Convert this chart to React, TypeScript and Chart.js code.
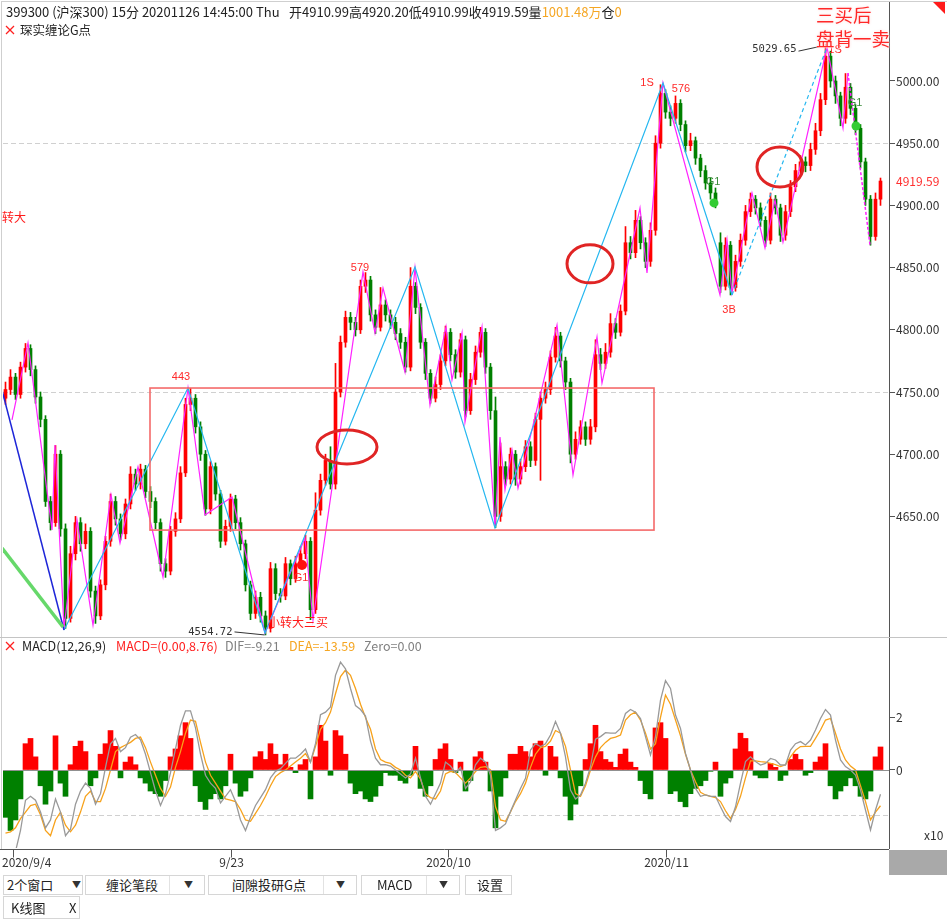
import React, { useEffect, useRef } from 'react';
import { Chart, registerables } from 'chart.js';
Chart.register(...registerables);

// ---------------- DATA ----------------
// each bar = one aggregated group of 15-minute bars, 2020/9/4 .. 2020/11/26 (399300 沪深300)
const opens = [4745,4752,4762,4748,4770,4785,4768,4746,4728,4662,
 4645,4700,4640,4568,4620,4645,4628,4638,4590,4570,
 4595,4630,4662,4648,4636,4660,4684,4676,4688,4670,
 4662,4645,4612,4606,4638,4648,4685,4740,4745,4722,
 4700,4656,4690,4668,4630,4642,4664,4645,4628,4595,
 4572,4585,4570,4560,4608,4588,4586,4612,4600,4612,
 4620,4630,4575,4655,4679,4695,4676,4750,4790,4810,
 4806,4800,4835,4840,4812,4802,4820,4812,4806,4797,
 4790,4770,4835,4818,4790,4765,4745,4756,4775,4798,
 4780,4766,4792,4735,4760,4782,4798,4770,4735,4650,
 4690,4680,4700,4680,4690,4706,4695,4728,4745,4752,
 4778,4795,4775,4758,4700,4712,4722,4712,4722,4780,
 4773,4782,4805,4798,4815,4870,4862,4888,4870,4855,
 4880,4950,4990,4975,4970,4982,4965,4948,4952,4938,
 4928,4918,4910,4870,4835,4868,4834,4855,4872,4895,
 4905,4898,4888,4872,4905,4898,4876,4895,4915,4928,
 4935,4932,4945,4960,4985,5020,5000,4988,4970,4995,
 4978,4962,4935,4905,4875,4905];
const closes = [4752,4762,4748,4770,4785,4768,4746,4728,4662,4645,
 4700,4640,4568,4620,4645,4628,4638,4590,4570,4595,
 4630,4662,4648,4636,4660,4684,4676,4688,4670,4662,
 4645,4612,4606,4638,4648,4685,4740,4745,4722,4700,
 4656,4690,4668,4630,4642,4664,4645,4628,4595,4572,
 4585,4570,4560,4608,4588,4586,4612,4600,4612,4620,
 4630,4575,4655,4679,4695,4676,4750,4790,4810,4806,
 4800,4835,4840,4812,4802,4820,4812,4806,4797,4790,
 4770,4835,4818,4790,4765,4745,4756,4775,4798,4780,
 4766,4792,4735,4760,4782,4798,4770,4735,4650,4690,
 4680,4700,4680,4690,4706,4695,4728,4745,4752,4778,
 4795,4775,4758,4700,4712,4722,4712,4722,4780,4773,
 4782,4805,4798,4815,4870,4862,4888,4870,4855,4880,
 4950,4990,4975,4970,4982,4965,4948,4952,4938,4928,
 4918,4910,4904,4835,4868,4834,4855,4872,4895,4905,
 4898,4888,4872,4905,4898,4876,4895,4915,4928,4935,
 4932,4945,4960,4985,5020,5000,4988,4970,4995,4978,
 4962,4935,4905,4875,4905,4919.59];
const highs = [4758,4768,4765,4774,4789,4788,4771,4750,4731,4666,
 4707,4703,4644,4626,4650,4649,4644,4641,4594,4599,
 4634,4668,4666,4652,4664,4690,4688,4692,4691,4674,
 4665,4648,4616,4642,4653,4690,4745,4753,4748,4726,
 4703,4694,4693,4671,4647,4668,4667,4649,4631,4598,
 4590,4589,4574,4613,4612,4592,4617,4615,4618,4626,
 4635,4633,4669,4684,4700,4706,4773,4795,4815,4814,
 4810,4840,4846,4843,4816,4834,4824,4816,4810,4801,
 4794,4850,4838,4821,4793,4768,4762,4780,4803,4801,
 4784,4797,4795,4765,4787,4802,4801,4773,4746,4709,
 4694,4705,4703,4696,4711,4710,4733,4750,4758,4783,
 4802,4798,4778,4761,4718,4727,4726,4728,4792,4785,
 4789,4813,4809,4820,4883,4875,4896,4891,4874,4886,
 4956,4997,4993,4980,4988,4985,4968,4958,4955,4941,
 4932,4922,4914,4878,4874,4871,4860,4877,4900,4910,
 4908,4902,4891,4910,4908,4901,4900,4920,4933,4940,
 4939,4950,4966,4990,5029.65,5024,5004,4991,5006,4998,
 4981,4965,4938,4908,4910,4922];
const lows = [4740,4748,4744,4745,4766,4763,4741,4722,4658,4639,
 4642,4634,4560,4565,4615,4622,4624,4585,4564,4567,
 4591,4626,4643,4631,4632,4656,4671,4672,4665,4657,
 4640,4606,4601,4603,4634,4645,4682,4735,4717,4695,
 4651,4652,4663,4625,4627,4638,4640,4623,4590,4567,
 4568,4565,4554.72,4557,4583,4581,4583,4595,4597,4608,
 4616,4567,4572,4651,4675,4672,4672,4746,4786,4800,
 4795,4797,4830,4807,4797,4799,4807,4801,4792,4785,
 4766,4767,4813,4785,4760,4741,4742,4752,4771,4775,
 4761,4762,4730,4732,4756,4778,4765,4728,4641,4646,
 4675,4676,4675,4676,4686,4690,4691,4679,4741,4748,
 4774,4770,4752,4693,4696,4708,4707,4708,4718,4768,
 4769,4778,4793,4795,4812,4857,4858,4865,4850,4851,
 4876,4946,4970,4964,4966,4960,4943,4944,4933,4923,
 4913,4905,4898,4830,4832,4828,4831,4851,4868,4891,
 4893,4883,4867,4869,4893,4871,4872,4891,4911,4924,
 4927,4928,4941,4956,4981,4995,4982,4964,4966,4973,
 4957,4930,4900,4868,4872,4900];

// MACD(12,26,9), displayed in units of x10
const macdHist = [-1.8,-2.3,-1.9,-1.1,1.0,1.2,0.5,-0.6,-1.3,-0.8,
 1.3,-0.5,-1.0,0.2,0.9,1.1,0.7,-0.6,-0.3,0.6,
 1.0,1.5,0.9,-0.3,0.3,0.5,0.2,-0.3,-0.5,-0.8,
 -0.9,-1.0,-0.4,0.5,0.8,1.3,1.8,1.2,-0.6,-1.2,
 -1.5,-1.1,-0.9,-1.1,-0.6,0.6,-0.5,-1.0,-0.8,-0.3,
 0.5,0.7,0.4,1.0,0.6,0.2,0.6,0.1,-0.1,0.2,
 0.4,-1.1,0.5,1.7,1.1,-0.2,1.5,1.3,0.6,-0.5,
 -0.9,-0.8,-1.1,-1.2,-1.0,-0.6,-0.1,-0.2,-0.2,-0.4,
 -0.5,-0.2,0.9,-0.7,-1.0,-0.6,0.4,0.8,1.0,0.4,
 -0.1,0.3,-0.8,-0.4,0.5,0.7,0.3,-0.8,-2.2,-1.0,
 -0.3,0.6,0.6,0.9,0.7,0.5,1.0,1.1,-0.2,0.9,
 0.5,-0.3,-1.0,-1.9,-1.3,-0.6,0.4,1.0,1.7,0.7,
 0.4,0.3,0.1,0.6,0.8,0.3,0.1,-0.4,-0.9,-1.1,
 1.6,1.8,1.2,-0.9,-0.8,-1.2,-1.4,-0.9,-0.7,-0.6,
 -0.4,-0.05,0.3,-1.0,-0.5,-0.3,0.8,1.4,1.2,0.7,
 -0.2,-0.3,-0.3,0.25,0.1,-0.4,-0.2,0.4,0.6,0.4,
 -0.2,-0.1,0.3,0.5,1.0,-0.6,-1.1,-0.8,-0.6,-0.3,
 -0.6,-1.0,-1.1,-0.8,0.5,0.876];
const difLine = [-3.3,-3.5,-3.1,-2.3,-1.15,-1.0,-1.15,-1.6,-2.2,-1.9,
 -1.1,-1.6,-2.5,-2.25,-1.3,-0.8,-0.5,-0.7,-1.3,-0.9,
 0.1,1.0,1.2,0.7,0.85,1.25,1.35,1.15,0.6,-0.1,
 -0.8,-1.35,-0.9,-0.1,0.8,1.7,2.25,2.25,1.6,0.6,
 -0.2,-0.5,-0.7,-1.25,-1.0,-0.75,-1.2,-1.9,-2.3,-1.8,
 -1.35,-1.05,-0.75,-0.3,-0.05,0.05,0.25,0.45,0.45,0.6,
 0.8,0.3,1.0,2.1,2.2,2.4,3.6,4.1,3.85,3.1,
 2.45,2.3,2.05,1.1,0.45,0.2,0.2,0.15,0.0,-0.15,
 -0.3,-0.15,0.45,-0.3,-1.0,-1.3,-0.9,-0.5,0.3,0.15,
 -0.1,0.1,-0.7,-0.45,0.2,0.45,0.3,-0.2,-2.3,-2.2,
 -2.05,-1.58,-1.14,-0.7,-0.32,0.76,1.0,0.89,1.0,1.33,
 1.84,1.4,0.5,-0.76,-1.1,-0.95,-0.5,0.13,1.17,1.27,
 1.42,1.4,1.4,1.58,2.15,2.3,2.2,1.96,1.27,0.57,
 1.27,2.66,3.4,3.1,2.09,1.58,0.63,0.0,-0.7,-1.0,
 -0.95,-1.0,-1.0,-1.4,-1.77,-1.96,-1.4,-0.5,0.32,0.5,
 0.32,0.19,0.25,0.44,0.38,0.19,0.19,0.76,1.0,1.08,
 0.95,1.14,1.52,1.96,2.3,2.09,1.14,0.38,0.13,0.0,
 -0.19,-0.76,-1.52,-2.28,-1.52,-0.921];
const deaLine = [-2.4,-2.35,-2.2,-1.85,-1.6,-1.35,-1.3,-1.7,-2.3,-2.5,
 -1.9,-1.6,-2.1,-2.35,-2.1,-1.6,-1.0,-0.8,-1.2,-1.2,
 -0.7,0.0,0.7,0.85,0.95,1.05,1.2,1.25,0.85,0.3,
 -0.2,-0.7,-1.0,-0.65,0.1,0.7,1.4,1.9,1.85,1.05,
 0.3,-0.2,-0.5,-0.8,-1.1,-1.15,-1.2,-1.5,-1.9,-1.95,
 -1.65,-1.35,-1.0,-0.6,-0.25,-0.1,0.0,0.15,0.3,0.45,
 0.63,0.3,0.9,1.55,1.8,2.2,2.9,3.55,3.8,3.6,
 3.1,2.5,2.0,1.55,0.8,0.4,0.3,0.25,0.1,0.0,
 -0.2,-0.3,-0.05,-0.35,-0.9,-1.05,-1.1,-0.8,-0.15,-0.05,
 -0.1,-0.3,-0.5,-0.3,-0.06,0.1,0.13,0.0,-1.4,-1.9,
 -1.95,-1.6,-1.2,-0.9,-0.5,0.1,0.6,0.85,0.9,1.1,
 1.5,1.4,0.9,0.0,-0.9,-1.0,-0.6,0.0,0.5,0.85,
 1.05,1.2,1.25,1.33,1.9,2.1,2.2,1.9,1.4,0.8,
 1.0,2.0,2.85,2.5,1.9,1.3,0.6,0.0,-0.45,-0.85,
 -0.95,-1.0,-1.05,-1.2,-1.55,-1.84,-1.5,-1.0,-0.3,0.35,
 0.35,0.32,0.3,0.25,0.2,0.13,0.2,0.5,0.75,0.89,
 0.9,0.9,1.2,1.52,1.9,1.96,1.4,0.8,0.38,0.15,
 0.0,-0.6,-1.2,-1.9,-1.6,-1.359];

// axes
const priceTicks = [4650, 4700, 4750, 4800, 4850, 4900, 4950, 5000];
const priceGuides = [4950, 4750];
const macdTicks = [0, 2];
const macdGuide = [-1.72];
const dateTickIdx = [1.5, 45, 88.5, 132];
const dateTickLabels = ['2020/9/4', '9/23', '2020/10', '2020/11'];
const lastPrice = [4919.59];

// 缠论 笔 (magenta) vertices: bar index / price
const penIdx = [1.3,4.5,9.3,9.9,11.7,14.3,17.5,21.1,22.9,26.5,31.5,36.5,39.9,45.3,51.9,59.9,61.5,71.5,73.9,75.5,79.9,81.9,84.9,88.1,89.3,91.3,91.9,95.3,97.9,98.9,99.9,101.3,102.5,110.3,113.5,118.3,119.3,126.9,128.3,131.5,142.9,144.3,145.3,149.3,151.9,153.9,155.5,164.3,167.5,168.5];
const penPrice = [4727.5,4789.4,4639.1,4707.4,4560.3,4647.1,4562.7,4667.2,4628.6,4689.7,4601.3,4753.2,4651.1,4665.6,4556.3,4632.6,4566.7,4846.5,4797.4,4833.6,4766.1,4849.7,4739.5,4802.3,4759.6,4797.4,4725.9,4802.3,4641.5,4713.8,4671.2,4703.4,4672.8,4803.9,4683.3,4794.2,4757.2,4897.9,4845.7,4998.4,4828,4872.2,4829.6,4910,4865.8,4904.3,4870.6,5027.3,4962.2,5006.4];
const penDashIdx = [168.5, 172.9];
const penDashPrice = [5006.4, 4868.2];
// 线段 (light blue)
const segIdx = [11.7, 36.5, 51.9, 81.9, 97.9, 131.5, 145.3];
const segPrice = [4558.7, 4753.2, 4556.3, 4850.5, 4640.7, 4998.4, 4828];
const segDashIdx = [145.3, 164.3];
const segDashPrice = [4828, 5027.3];
// higher level lines at the left edge
const trendIdx = [-0.7, 11.7];
const trendPrice = [4751.6, 4558.7];
const trend2Idx = [-0.7, 11.5];
const trend2Price = [4624.6, 4561.1];
// 中枢 box
const boxIdx = [28.9, 129.7];
const boxPrice = [4753.2, 4639];
// circled spots
const ringIdx = [68.3, 116.9, 154.9];
const ringPrice = [4705.8, 4853, 4930.9];
// notes
const noteText = ['443', '579', '1S', '576', 'G1', 'G1', '3B', '1S', 'G1'];
const noteIdx = [35.1, 70.9, 128.3, 135.1, 141.5, 169.9, 144.7, 165.9, 59.1];
const notePrice = [4762, 4849.7, 4998.4, 4993.6, 4918.8, 4982.3, 4816, 5025, 4600.5];
const cjkNoteText = ['小转大三买', '转大'];
const cjkNoteIdx = [52.5, -0.7];
const cjkNotePrice = [4565, 4890];
const dotIdx = [141.7, 170.1, 59.3];
const dotPrice = [4902, 4963.8, 4611];
const extremeText = ['5029.65', '4554.72'];
const extremeIdx = [164, 52];
const extremePrice = [5029.65, 4554.72];

// ---------------- STYLE ----------------
const UP = '#ff0000';
const DOWN = '#008000';
const UI = '"Noto Sans CJK SC", "Noto Sans", sans-serif';
const noteColor = ['#ff2a2a', '#ff2a2a', '#ff2a2a', '#ff2a2a', '#3c8c3c', '#3c8c3c', '#ff2a2a', '#ff2a2a', '#ff2a2a'];
const ringRx = [30, 23, 23];
const ringRy = [17, 19, 20];
const dotColor = ['#33cc33', '#33cc33', '#ff1010'];
const dotR = [4.5, 4.5, 5];
const extremeOffset = [[-29, 5, -27, 7, -4, 2], [-33, -3, -31, -3, -1, 0]];

const X_MIN = -0.5;
const X_MAX = 176.7;

const candleColors = closes.map((c, i) => (c >= opens[i] ? UP : DOWN));
const pts = (xs: number[], ys: number[]) => xs.map((x, k) => ({ x, y: ys[k] }));

const lineDs = (data: any, color: string, width: number, dash: number[] = []) => ({
  type: 'line', data, borderColor: color, borderWidth: width, borderDash: dash,
  pointRadius: 0, tension: 0, fill: false, order: 0,
});

const mainPlugin = {
  id: 'mainOverlay',
  beforeDatasetsDraw(chart: any) {
    const { ctx, chartArea: a, scales } = chart;
    ctx.save();
    ctx.strokeStyle = '#d0d0d0';
    ctx.lineWidth = 1;
    ctx.setLineDash([5, 3]);
    priceGuides.forEach((v) => {
      const y = Math.round(scales.y.getPixelForValue(v)) + 0.5;
      ctx.beginPath(); ctx.moveTo(a.left, y); ctx.lineTo(a.right, y); ctx.stroke();
    });
    ctx.restore();
  },
  afterDatasetsDraw(chart: any) {
    const { ctx, scales } = chart;
    const X = (v: number) => scales.x.getPixelForValue(v);
    const Y = (v: number) => scales.y.getPixelForValue(v);
    ctx.save();
    ctx.strokeStyle = '#f46a6a';
    ctx.lineWidth = 1.6;
    const bx0 = X(boxIdx[0]), bx1 = X(boxIdx[1]), by0 = Y(boxPrice[0]), by1 = Y(boxPrice[1]);
    ctx.strokeRect(bx0, by0, bx1 - bx0, by1 - by0);
    ctx.strokeStyle = '#e02424';
    ctx.lineWidth = 3;
    ringIdx.forEach((v, k) => {
      ctx.beginPath();
      ctx.ellipse(X(v), Y(ringPrice[k]), ringRx[k], ringRy[k], 0, 0, Math.PI * 2);
      ctx.stroke();
    });
    dotIdx.forEach((v, k) => {
      ctx.fillStyle = dotColor[k];
      ctx.beginPath(); ctx.arc(X(v), Y(dotPrice[k]), dotR[k], 0, Math.PI * 2); ctx.fill();
    });
    ctx.textAlign = 'center';
    ctx.textBaseline = 'middle';
    ctx.font = '11px "Liberation Sans", sans-serif';
    noteText.forEach((t, k) => {
      ctx.fillStyle = noteColor[k];
      ctx.fillText(t, X(noteIdx[k]), Y(notePrice[k]));
    });
    ctx.textAlign = 'left';
    ctx.font = '12px ' + UI;
    ctx.fillStyle = '#ff1a1a';
    cjkNoteText.forEach((t, k) => ctx.fillText(t, X(cjkNoteIdx[k]), Y(cjkNotePrice[k])));
    ctx.font = '10.5px "DejaVu Sans Mono", monospace';
    ctx.textAlign = 'right';
    ctx.fillStyle = '#333';
    ctx.strokeStyle = '#333';
    ctx.lineWidth = 1;
    extremeText.forEach((t, k) => {
      const px = X(extremeIdx[k]), py = Y(extremePrice[k]);
      const o = extremeOffset[k];
      ctx.fillText(t, px + o[0], py + o[1]);
      ctx.beginPath(); ctx.moveTo(px + o[2], py + o[3]); ctx.lineTo(px + o[4], py + o[5]); ctx.stroke();
    });
    ctx.restore();
  },
  afterDraw(chart: any) {
    const { ctx, chartArea: a, scales } = chart;
    ctx.save();
    ctx.font = '12px ' + UI;
    ctx.fillStyle = '#ff3030';
    ctx.textAlign = 'left';
    ctx.textBaseline = 'middle';
    lastPrice.forEach((v) => ctx.fillText(v.toFixed(2), a.right + 7, scales.y.getPixelForValue(v)));
    ctx.restore();
  },
};

const macdPlugin = {
  id: 'macdOverlay',
  beforeDatasetsDraw(chart: any) {
    const { ctx, chartArea: a, scales } = chart;
    ctx.save();
    ctx.strokeStyle = '#d0d0d0';
    ctx.setLineDash([5, 3]);
    macdGuide.forEach((v) => {
      const y = Math.round(scales.y.getPixelForValue(v)) + 0.5;
      ctx.beginPath(); ctx.moveTo(a.left, y); ctx.lineTo(a.right, y); ctx.stroke();
    });
    ctx.restore();
  },
  afterDatasetsDraw(chart: any) {
    const { ctx, chartArea: a, scales } = chart;
    ctx.save();
    ctx.strokeStyle = '#909090';
    ctx.lineWidth = 1;
    const y = Math.round(scales.y.getPixelForValue(0)) + 0.5;
    ctx.beginPath(); ctx.moveTo(a.left, y); ctx.lineTo(a.right, y); ctx.stroke();
    ctx.restore();
  },
  afterDraw(chart: any) {
    const { ctx, chartArea: a, scales } = chart;
    ctx.save();
    ctx.strokeStyle = '#555';
    ctx.lineWidth = 1;
    const ay = Math.round(a.bottom) + 1.5;
    ctx.beginPath(); ctx.moveTo(0, ay); ctx.lineTo(a.right, ay); ctx.stroke();
    ctx.font = '12px ' + UI;
    ctx.fillStyle = '#333';
    ctx.textBaseline = 'middle';
    ctx.textAlign = 'center';
    dateTickIdx.forEach((v, k) => {
      const x = Math.round(scales.x.getPixelForValue(v)) + 0.5;
      ctx.beginPath(); ctx.moveTo(x, ay); ctx.lineTo(x, ay + 8); ctx.stroke();
      const w = ctx.measureText(dateTickLabels[k]).width;
      const cx = Math.max(x, 2 + w / 2);
      ctx.fillText(dateTickLabels[k], cx, ay + 13);
    });
    ctx.restore();
  },
};

const yAxis = (min: number, max: number, ticks: number[], fmt: (v: number) => string) => ({
  position: 'right',
  min, max,
  afterFit: (s: any) => { s.width = 58; s.paddingTop = 0; s.paddingBottom = 0; },
  afterBuildTicks: (s: any) => { s.ticks = ticks.map((v) => ({ value: v })); },
  ticks: { callback: (v: any) => fmt(Number(v)), color: '#333', font: { family: UI, size: 12 }, padding: 1 },
  grid: { drawOnChartArea: false, drawTicks: true, tickLength: 6, tickColor: '#555', color: '#555' },
  border: { display: true, color: '#555', width: 1 },
});

const xAxis = { type: 'linear', min: X_MIN, max: X_MAX, offset: false, display: false, grid: { offset: false } };

export default function App() {
  const mainRef = useRef<HTMLCanvasElement>(null);
  const macdRef = useRef<HTMLCanvasElement>(null);

  useEffect(() => {
    const idx = closes.map((_, i) => i);
    const main = new Chart(mainRef.current as HTMLCanvasElement, {
      type: 'bar',
      data: {
        datasets: [
          lineDs(pts(trend2Idx, trend2Price), '#66d86a', 3.5),
          lineDs(pts(trend2Idx, trend2Price), '#2ec4d6', 1),
          lineDs(pts(trendIdx, trendPrice), '#1e26d8', 1.5),
          lineDs(pts(segIdx, segPrice), '#25b7f0', 1.2),
          lineDs(pts(segDashIdx, segDashPrice), '#25b7f0', 1.2, [4, 3]),
          lineDs(pts(penIdx, penPrice), '#ff22ff', 1.2),
          lineDs(pts(penDashIdx, penDashPrice), '#ff22ff', 1.5, [3, 2]),
          {
            type: 'bar', data: idx.map((i) => ({ x: i, y: [opens[i], closes[i]] })),
            backgroundColor: candleColors, barThickness: 3, grouped: false, minBarLength: 1, order: 1,
          },
          {
            type: 'bar', data: idx.map((i) => ({ x: i, y: [lows[i], highs[i]] })),
            backgroundColor: candleColors, barThickness: 1, grouped: false, order: 2,
          },
        ] as any,
      },
      options: {
        animation: false,
        responsive: false,
        events: [],
        layout: { padding: { left: 3, top: 2, right: 0, bottom: 0 } },
        plugins: { legend: { display: false }, tooltip: { enabled: false } },
        scales: {
          x: xAxis as any,
          y: yAxis(4553.06, 5063.5, priceTicks, (v) => v.toFixed(2)) as any,
        },
      },
      plugins: [mainPlugin],
    } as any);

    const macd = new Chart(macdRef.current as HTMLCanvasElement, {
      type: 'bar',
      data: {
        datasets: [
          lineDs(pts(idx, difLine), '#999999', 1.3),
          lineDs(pts(idx, deaLine), '#f7a21b', 1.3),
          {
            type: 'bar', data: idx.map((i) => ({ x: i, y: macdHist[i] })),
            backgroundColor: macdHist.map((v) => (v >= 0 ? UP : DOWN)),
            barThickness: 5, grouped: false, order: 1,
          },
        ] as any,
      },
      options: {
        animation: false,
        responsive: false,
        events: [],
        layout: { padding: { left: 3, top: 1, right: 0, bottom: 28 } },
        plugins: { legend: { display: false }, tooltip: { enabled: false } },
        scales: {
          x: xAxis as any,
          y: yAxis(-2.966, 5.019, macdTicks, (v) => String(v)) as any,
        },
      },
      plugins: [macdPlugin],
    } as any);

    return () => { main.destroy(); macd.destroy(); };
  }, []);

  const abs = (left: number, top: number, extra: any = {}) => ({ position: 'absolute' as const, left, top, ...extra });
  const btn = (left: number, width: number) => abs(left, 875, {
    width, height: 20, boxSizing: 'border-box', border: '1px solid #d6d6d6', background: '#fff',
  });
  const txt = { fontSize: 13, lineHeight: '18px', color: '#222', whiteSpace: 'nowrap' as const };
  const arrow = { fontSize: 9, color: '#333', lineHeight: '18px' };
  const head = { fontSize: 13, lineHeight: '18px', color: '#222', whiteSpace: 'nowrap' as const };
  const Cross = ({ left, top }: { left: number; top: number }) => (
    <svg style={abs(left, top)} width={10} height={10}>
      <line x1={1} y1={1} x2={9} y2={9} stroke="#ff2020" strokeWidth={1.2} />
      <line x1={9} y1={1} x2={1} y2={9} stroke="#ff2020" strokeWidth={1.2} />
    </svg>
  );

  return (
    <div style={{ position: 'absolute', left: 0, top: 0, width: 947, height: 919, background: '#fff', overflow: 'hidden', fontFamily: UI }}>
      <div style={abs(1, 1, { width: 946, height: 848, borderLeft: '1px solid #cfcfcf', borderTop: '1px solid #cfcfcf', boxSizing: 'border-box' })} />
      <canvas ref={mainRef} width={947} height={637} style={abs(0, 0)} />
      <canvas ref={macdRef} width={947} height={239} style={abs(0, 637)} />
      <div style={abs(0, 637, { width: 947, height: 1, background: '#c4c4c4' })} />
      <div style={abs(889, 850, { width: 58, height: 25, background: '#a9a9a9' })} />
      <div style={abs(933, 2, { width: 0, height: 0, borderTop: '12px solid #ff1a1a', borderLeft: '12px solid transparent' })} />

      {/* header */}
      <div style={abs(6, 3, head)}>399300 (沪深300) 15分 20201126 14:45:00 Thu</div>
      <div style={abs(289, 3, head)}>
        开4910.99高4920.20低4910.99收4919.59量<span style={{ color: '#f5a623' }}>1001.48万</span>仓<span style={{ color: '#f5a623' }}>0</span>
      </div>
      <Cross left={5} top={25} />
      <div style={abs(20, 21, { ...head, fontSize: 12.5 })}>琛实缠论G点</div>

      {/* big annotation */}
      <div style={abs(816, 2, { fontSize: 18.5, lineHeight: '24px', color: '#ff2828', whiteSpace: 'nowrap', textShadow: '0 0 2px #fff, 0 0 3px #ffd0d0, 0 0 3px #fff' })}>
        三买后<br />盘背一卖
      </div>

      {/* MACD header */}
      <Cross left={5} top={641} />
      <div style={abs(22, 637, { ...head, fontSize: 12.5 })}>MACD(12,26,9)</div>
      <div style={abs(116, 637, { ...head, fontSize: 12.5, color: '#ff2020' })}>MACD=(0.00,8.76)</div>
      <div style={abs(225, 637, { ...head, fontSize: 12.5, color: '#808080' })}>DIF=-9.21</div>
      <div style={abs(289, 637, { ...head, fontSize: 12.5, color: '#f5a623' })}>DEA=-13.59</div>
      <div style={abs(364, 637, { ...head, fontSize: 12.5, color: '#808080' })}>Zero=0.00</div>
      <div style={abs(924, 826, { fontSize: 12, lineHeight: '18px', color: '#333' })}>x10</div>

      {/* toolbar */}
      <div style={btn(3, 80)}>
        <span style={{ ...txt, ...abs(3, 0) }}>2个窗口</span>
        <span style={{ ...arrow, ...abs(68, 0) }}>▼</span>
      </div>
      <div style={btn(85, 120)}>
        <span style={{ ...txt, ...abs(20, 0) }}>缠论笔段</span>
        <div style={abs(83, 0, { width: 1, height: 18, background: '#e2e2e2' })} />
        <span style={{ ...arrow, ...abs(98, 0) }}>▼</span>
      </div>
      <div style={btn(208, 149)}>
        <span style={{ ...txt, ...abs(23, 0) }}>间隙投研G点</span>
        <div style={abs(114, 0, { width: 1, height: 18, background: '#e2e2e2' })} />
        <span style={{ ...arrow, ...abs(127, 0) }}>▼</span>
      </div>
      <div style={btn(361, 99)}>
        <span style={{ ...txt, ...abs(15, 0) }}>MACD</span>
        <div style={abs(64, 0, { width: 1, height: 18, background: '#e2e2e2' })} />
        <span style={{ ...arrow, ...abs(77, 0) }}>▼</span>
      </div>
      <div style={btn(465, 47)}>
        <span style={{ ...txt, ...abs(11, 0) }}>设置</span>
      </div>
      <div style={abs(3, 896, { width: 77, height: 23, boxSizing: 'border-box', border: '1px solid #d6d6d6', background: '#fff' })}>
        <span style={{ ...txt, ...abs(7, 2) }}>K线图</span>
        <span style={{ ...txt, ...abs(65, 2) }}>X</span>
      </div>
    </div>
  );
}
